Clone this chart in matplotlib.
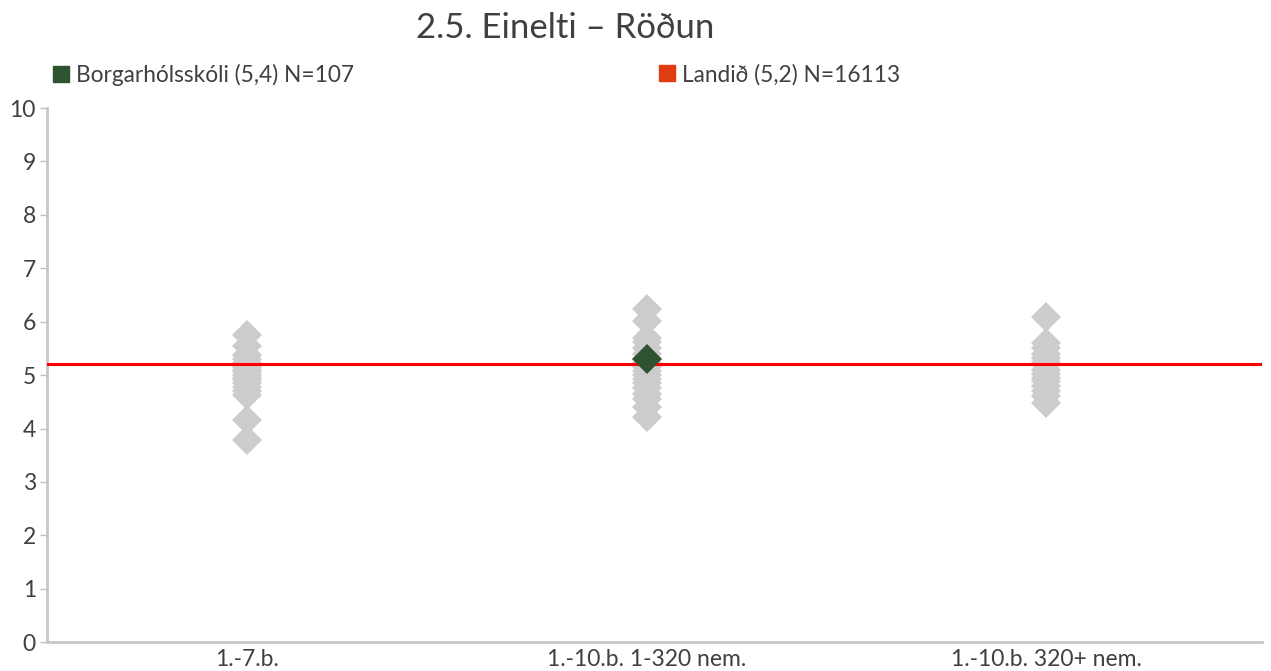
import matplotlib.pyplot as plt
from matplotlib.lines import Line2D

plt.rcParams['font.family'] = ['Lato', 'DejaVu Sans']

categories = ['1.-7.b.', '1.-10.b. 1-320 nem.', '1.-10.b. 320+ nem.']
# scores of other schools in each group (gray diamonds)
others = [
    [3.78, 4.15, 4.62, 4.7, 4.78, 4.85, 4.9, 4.95, 5.0, 5.05, 5.1, 5.15, 5.22, 5.3, 5.38, 5.55, 5.75],
    [4.22, 4.4, 4.55, 4.65, 4.75, 4.85, 4.92, 5.0, 5.08, 5.15, 5.22, 5.3, 5.4, 5.5, 5.62, 5.7, 6.02, 6.24],
    [4.48, 4.6, 4.7, 4.8, 4.88, 4.95, 5.02, 5.1, 5.18, 5.25, 5.32, 5.4, 5.5, 5.6, 6.08],
]
school_group = 1
school_value = 5.3
national = 5.2
school_label = 'Borgarhólsskóli (5,4) N=107'
national_label = 'Landið (5,2) N=16113'

green = '#2f5230'
red = '#ff0000'
gray = '#cccccc'

fig = plt.figure(figsize=(12.71, 6.71), dpi=100)
ax = fig.add_axes([0.037, 0.043, 0.956, 0.796])

for i, vals in enumerate(others):
    ax.plot([i] * len(vals), vals, linestyle='none', marker='D', markersize=15,
            color=gray, markeredgewidth=0)
ax.axhline(national, color=red, linewidth=2.2, zorder=3)
ax.plot([school_group], [school_value], linestyle='none', marker='D', markersize=15,
        color=green, markeredgewidth=0, zorder=4)

ax.set_xlim(-0.5, 2.54)
ax.set_ylim(0, 10)
ax.set_yticks(range(0, 11))
ax.set_xticks(range(len(categories)))
ax.set_xticklabels(categories)
ax.tick_params(axis='y', colors='#bfbfbf', labelcolor='#404040', labelsize=16.5, length=5, width=1, pad=3)
ax.tick_params(axis='x', length=0, labelcolor='#404040', labelsize=16.5, pad=5)
for s in ['top', 'right']:
    ax.spines[s].set_visible(False)
for s in ['left', 'bottom']:
    ax.spines[s].set_color('#c8c8c8')
    ax.spines[s].set_linewidth(2)

fig.text(0.445, 0.958, '2.5. Einelti – Röðun', ha='center', va='center', fontsize=25,
         color='#404040')

h1 = Line2D([], [], linestyle='none', marker='s', markersize=12, color=green)
h2 = Line2D([], [], linestyle='none', marker='s', markersize=12, color='#e03c14')
leg1 = fig.legend([h1], [school_label], loc='center left', bbox_to_anchor=(0.024, 0.889),
                  frameon=False, fontsize=16.3, handletextpad=0.2, handlelength=0.9, labelcolor='#404040')
leg2 = fig.legend([h2], [national_label], loc='center left', bbox_to_anchor=(0.501, 0.889),
                  frameon=False, fontsize=16.3, handletextpad=0.2, handlelength=0.9, labelcolor='#404040')

fig.savefig('out.png', dpi=100)
